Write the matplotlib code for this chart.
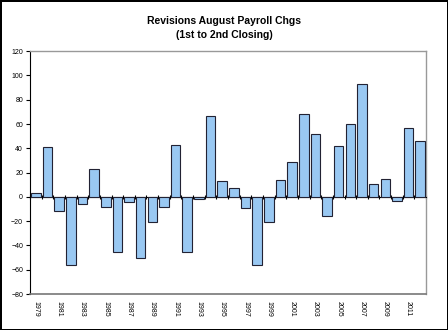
import numpy as np
import matplotlib.pyplot as plt
from matplotlib.transforms import blended_transform_factory

plt.rcParams['font.family'] = ['Liberation Sans', 'DejaVu Sans']

years = list(range(1979, 2013))
revisions = [3, 41, -12, -56, -6, 23, -8, -45, -4, -50, -21, -8, 43, -45, -2, 67, 13, 7,
             -9, -56, -21, 14, 29, 68, 52, -16, 42, 60, 93, 11, 15, -3, 57, 46]
y_ticks = list(range(-80, 121, 20))

fig = plt.figure(figsize=(4.48, 3.3), dpi=100, edgecolor='black', linewidth=2)
ax = fig.add_axes([0.067, 0.109, 0.884, 0.736])

x = np.arange(len(years))
ax.bar(x, revisions, width=0.82, color='#99C8F2', edgecolor='#222233', linewidth=0.8, zorder=3)

ax.set_xlim(-0.5, len(years) - 0.5)
ax.set_ylim(-80, 120)
ax.set_yticks(y_ticks)
ax.tick_params(axis='y', labelsize=5, length=3, width=0.8, pad=2)

# category axis sits on the zero line with ticks between bars
ax.spines['bottom'].set_position(('data', 0))
ax.spines['bottom'].set_linewidth(0.8)
ax.set_xticks(np.arange(len(years) + 1) - 0.5)
ax.set_xticklabels([])
ax.tick_params(axis='x', direction='inout', length=3, width=0.8)
ax.spines['left'].set_linewidth(0.8)
for side in ('top', 'right'):
    ax.spines[side].set_color('#999999')
    ax.spines[side].set_linewidth(1.0)
# plot area border along the bottom
ax.axhline(-80, color='#777777', linewidth=1.2, zorder=4, clip_on=False)

# year labels below the plot area, every other year
trans = blended_transform_factory(ax.transData, ax.transAxes)
for i, yr in enumerate(years):
    if yr % 2 == 1:
        ax.text(i, -0.03, str(yr), transform=trans, rotation=-90,
                ha='center', va='top', fontsize=5)

fig.text(0.5, 0.915, 'Revisions August Payroll Chgs\n(1st to 2nd Closing)',
         ha='center', va='center', fontsize=7.5, fontweight='bold', linespacing=1.5)

fig.savefig('out.png', dpi=100)
